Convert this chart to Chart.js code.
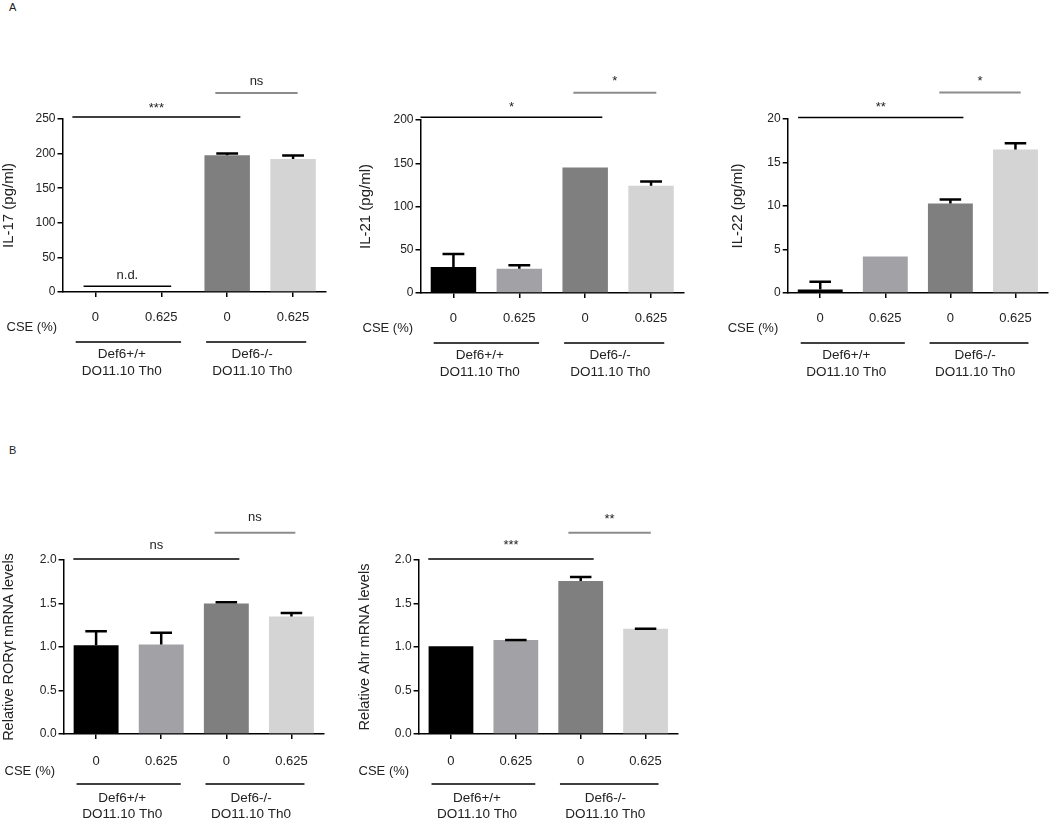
<!DOCTYPE html>
<html><head><meta charset="utf-8">
<script src="https://cdn.jsdelivr.net/npm/chart.js@4.4.0/dist/chart.umd.min.js"></script>
<style>
html,body{margin:0;padding:0;background:#fff;width:1050px;height:821px;overflow:hidden;position:relative;font-family:"Liberation Sans",Arial,sans-serif;}
canvas{position:absolute;}
.lbl{position:absolute;font-size:11px;color:#222;line-height:1;}
</style></head><body>
<div class="lbl" style="left:9px;top:2px">A</div>
<div class="lbl" style="left:9px;top:445px">B</div>
<script>
// ---- data ----
const categories = ['0', '0.625', '0', '0.625'];
const groupWT = ['Def6+/+', 'DO11.10 Th0'];
const groupKO = ['Def6-/-', 'DO11.10 Th0'];
const cseLabel = 'CSE (%)';
const barColors = ['#000000', '#a2a2a6', '#7f7f7f', '#d4d4d4'];

const il17Mean = [null, null, 197.5, 192.3];
const il17Err  = [null, null, 2.5, 4.8];
const il21Mean = [30, 28, 145, 124];
const il21Err  = [15, 4, null, 5];
const il22Mean = [0.4, 4.2, 10.3, 16.5];
const il22Err  = [0.9, null, 0.45, 0.7];
const rorgtMean = [1.02, 1.03, 1.50, 1.35];
const rorgtErr  = [0.16, 0.135, 0.015, 0.04];
const ahrMean = [1.01, 1.08, 1.76, 1.21];
const ahrErr  = [null, 0, 0.046, 0];

const il17Ticks = [0, 50, 100, 150, 200, 250];
const il21Ticks = [0, 50, 100, 150, 200];
const il22Ticks = [0, 5, 10, 15, 20];
const mrnaTicks = [0.0, 0.5, 1.0, 1.5, 2.0];

Chart.defaults.font.family = '"Liberation Sans", Arial, sans-serif';

const FONT = '"Liberation Sans", Arial, sans-serif';
const BLACK = '#000';
const GRAY = '#8c8c8c';

function makePanel(p) {
  const P = 6;
  const canvasLeft = p.titleCX - p.titleSize / 2 - P;
  const canvasTop = p.yTop - 75;
  const w = Math.round(p.axisRight + 6 - canvasLeft);
  const h = Math.round(p.yBottom + 90 - canvasTop);
  const cv = document.createElement('canvas');
  cv.width = w; cv.height = h;
  cv.style.left = canvasLeft + 'px';
  cv.style.top = canvasTop + 'px';
  cv.style.width = w + 'px'; cv.style.height = h + 'px';
  document.body.appendChild(cv);

  const plugin = {
    id: 'extras_' + p.id,
    afterDatasetsDraw(chart) {
      const ctx = chart.ctx;
      const ys = chart.scales.y;
      const meta = chart.getDatasetMeta(0);
      ctx.save();
      ctx.strokeStyle = BLACK;
      ctx.lineWidth = 2.5;
      ctx.lineCap = 'butt';
      p.err.forEach((e, i) => {
        const m = p.mean[i];
        if (e === null || m === null) return;
        const el = meta.data[i];
        const x = el.x;
        const y0 = ys.getPixelForValue(m);
        const y1 = ys.getPixelForValue(m + e);
        const cap = el.width * 0.24;
        ctx.beginPath();
        ctx.moveTo(x, y0); ctx.lineTo(x, y1);
        ctx.moveTo(x - cap, y1); ctx.lineTo(x + cap, y1);
        ctx.stroke();
      });
      ctx.restore();
    },
    afterDraw(chart) {
      const ctx = chart.ctx;
      const xs = chart.scales.x;
      const top = chart.chartArea.top;
      const bottom = chart.chartArea.bottom;
      const left = chart.chartArea.left;
      const px = c => xs.getPixelForValue(c);
      ctx.save();
      ctx.textAlign = 'center';
      ctx.textBaseline = 'alphabetic';
      // significance bars
      p.sig.forEach(s => {
        ctx.strokeStyle = s.color;
        ctx.lineWidth = s.color === BLACK ? 1.5 : 2;
        ctx.beginPath();
        ctx.moveTo(px(s.from), top + s.lineDy);
        ctx.lineTo(px(s.to), top + s.lineDy);
        ctx.stroke();
        ctx.fillStyle = '#222';
        ctx.font = '13px ' + FONT;
        ctx.fillText(s.text, (px(s.from) + px(s.to)) / 2, top + s.textDy);
      });
      // n.d.
      if (p.nd) {
        ctx.strokeStyle = BLACK; ctx.lineWidth = 1.5;
        ctx.beginPath();
        ctx.moveTo(px(p.nd.from), bottom + p.nd.lineDy);
        ctx.lineTo(px(p.nd.to), bottom + p.nd.lineDy);
        ctx.stroke();
        ctx.fillStyle = '#222';
        ctx.font = '13px ' + FONT;
        ctx.fillText(p.nd.text, (px(p.nd.from) + px(p.nd.to)) / 2, bottom + p.nd.textDy);
      }
      // CSE label
      ctx.textAlign = 'left';
      ctx.textBaseline = 'middle';
      ctx.fillStyle = '#222';
      ctx.font = '13px ' + FONT;
      ctx.fillText(cseLabel, left + p.cseDx, bottom + p.cseDy);
      // group lines + labels
      ctx.strokeStyle = BLACK; ctx.lineWidth = 1.5;
      const gl = [[-0.3, 1.3], [1.68, 3.2]];
      gl.forEach(g => {
        ctx.beginPath();
        ctx.moveTo(px(g[0]), bottom + 50);
        ctx.lineTo(px(g[1]), bottom + 50);
        ctx.stroke();
      });
      ctx.textAlign = 'center';
      ctx.font = '13.5px ' + FONT;
      [[groupWT, 0.4], [groupKO, 2.38]].forEach(([txt, c]) => {
        ctx.fillText(txt[0], px(c), bottom + p.g1);
        ctx.fillText(txt[1], px(c), bottom + p.g2);
      });
      ctx.restore();
    }
  };

  new Chart(cv, {
    type: 'bar',
    data: {
      labels: categories,
      datasets: [{
        data: p.mean,
        backgroundColor: barColors,
        borderWidth: 0,
        barPercentage: 0.69,
        categoryPercentage: 1
      }]
    },
    options: {
      responsive: false,
      animation: false,
      devicePixelRatio: 1,
      layout: { padding: { left: P, top: 75, right: 6, bottom: 0 } },
      plugins: { legend: { display: false }, tooltip: { enabled: false } },
      scales: {
        x: {
          type: 'category',
          offset: true,
          afterFit: s => { s.height = 90; },
          grid: { offset: false, drawOnChartArea: false, drawTicks: true, tickLength: 5, color: BLACK, lineWidth: 1.5 },
          border: { display: true, color: BLACK, width: 1.5 },
          ticks: { font: { size: 13 }, color: '#222', padding: p.tickPad, maxRotation: 0, autoSkip: false }
        },
        y: {
          min: 0, max: p.ticks[p.ticks.length - 1],
          afterFit: s => { s.width = p.axisX - canvasLeft - P; },
          afterBuildTicks: s => { s.ticks = p.ticks.map(v => ({ value: v })); },
          grid: { drawOnChartArea: false, drawTicks: true, tickLength: 5, color: BLACK, lineWidth: 1.5 },
          border: { display: true, color: BLACK, width: 1.5 },
          ticks: {
            font: { size: 12 }, color: '#222', padding: 2,
            callback: v => p.decimals ? Number(v).toFixed(p.decimals) : String(v)
          },
          title: {
            display: true, text: p.title, color: '#222',
            font: { size: p.titleSize, lineHeight: 1 }, padding: 0
          }
        }
      }
    },
    plugins: [plugin]
  });
}

makePanel({
  id: 'a1', mean: il17Mean, err: il17Err, ticks: il17Ticks, decimals: 0,
  title: 'IL-17 (pg/ml)', titleSize: 15, titleCX: 8,
  axisX: 62, axisRight: 325, yTop: 119.3, yBottom: 292.7,
  tickPad: 13, cseDx: -56, cseDy: 35, g1: 62.3, g2: 79,
  sig: [
    { from: -0.35, to: 2.2, lineDy: -2, textDy: -7.3, text: '***', color: BLACK },
    { from: 1.82, to: 3.07, lineDy: -26, textDy: -34.3, text: 'ns', color: GRAY }
  ],
  nd: { from: -0.18, to: 1.15, lineDy: -5.7, textDy: -12.7, text: 'n.d.' }
});
makePanel({
  id: 'a2', mean: il21Mean, err: il21Err, ticks: il21Ticks, decimals: 0,
  title: 'IL-21 (pg/ml)', titleSize: 15, titleCX: 365,
  axisX: 420, axisRight: 683, yTop: 120, yBottom: 292.7,
  tickPad: 13, cseDx: -58, cseDy: 35, g1: 62.3, g2: 79,
  sig: [
    { from: -0.5, to: 2.26, lineDy: -2.7, textDy: -9, text: '*', color: BLACK },
    { from: 1.82, to: 3.08, lineDy: -27.3, textDy: -35.5, text: '*', color: GRAY }
  ]
});
makePanel({
  id: 'a3', mean: il22Mean, err: il22Err, ticks: il22Ticks, decimals: 0,
  title: 'IL-22 (pg/ml)', titleSize: 15, titleCX: 737.5,
  axisX: 787.7, axisRight: 1047.5, yTop: 119.3, yBottom: 293.3,
  tickPad: 13, cseDx: -60, cseDy: 35, g1: 62.3, g2: 79,
  sig: [
    { from: -0.34, to: 2.2, lineDy: -1.6, textDy: -8.3, text: '**', color: BLACK },
    { from: 1.83, to: 3.08, lineDy: -26.6, textDy: -34.3, text: '*', color: GRAY }
  ]
});
makePanel({
  id: 'b1', mean: rorgtMean, err: rorgtErr, ticks: mrnaTicks, decimals: 1,
  title: 'Relative RORγt mRNA levels', titleSize: 14.5, titleCX: 9,
  axisX: 63.3, axisRight: 324.2, yTop: 560, yBottom: 734,
  tickPad: 15, cseDx: -59, cseDy: 37.7, g1: 64.3, g2: 80,
  sig: [
    { from: -0.35, to: 2.2, lineDy: -1, textDy: -10.7, text: 'ns', color: BLACK },
    { from: 1.82, to: 3.06, lineDy: -27.3, textDy: -39.3, text: 'ns', color: GRAY }
  ]
});
makePanel({
  id: 'b2', mean: ahrMean, err: ahrErr, ticks: mrnaTicks, decimals: 1,
  title: 'Relative Ahr mRNA levels', titleSize: 14.5, titleCX: 365,
  axisX: 418.3, axisRight: 678.2, yTop: 560, yBottom: 734,
  tickPad: 15, cseDx: -60, cseDy: 37.7, g1: 64.3, g2: 80,
  sig: [
    { from: -0.35, to: 2.2, lineDy: -1, textDy: -11, text: '***', color: BLACK },
    { from: 1.81, to: 3.08, lineDy: -27.3, textDy: -37, text: '**', color: GRAY }
  ]
});
</script>
</body></html>
